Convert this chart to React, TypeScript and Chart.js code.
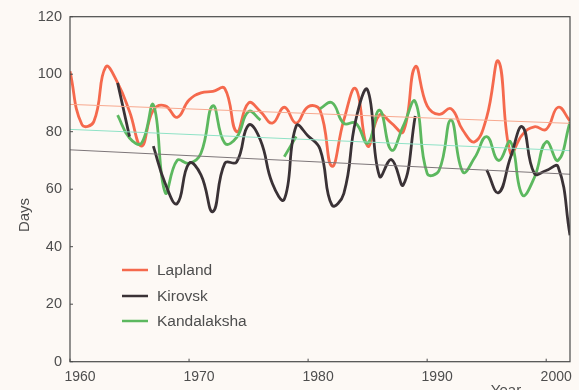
import React, { useEffect, useRef } from 'react';
import { Chart, registerables } from 'chart.js';

Chart.register(...registerables);

const years = [
  1960, 1961, 1962, 1963, 1964, 1965, 1966, 1967, 1968, 1969,
  1970, 1971, 1972, 1973, 1974, 1975, 1976, 1977, 1978, 1979,
  1980, 1981, 1982, 1983, 1984, 1985, 1986, 1987, 1988, 1989,
  1990, 1991, 1992, 1993, 1994, 1995, 1996, 1997, 1998, 1999,
  2000, 2001, 2002,
];

const lapland = [
  101, 82.5, 83.5, 102.5, 97, 87, 75, 87.5, 89, 85,
  91, 93.5, 94, 95, 80, 90, 87, 83, 88.5, 83,
  88.7, 87.5, 68, 84, 95, 75, 85.8, 83, 80, 102.6,
  89, 86, 88, 80.5, 76.5, 85, 104.5, 72.5, 79, 81.7,
  80.8, 88.5, 83.7,
];

const kirovsk = [
  null, null, null, null, 97, 78.3, null, 75, 62, 55,
  69, 65, 52.2, 69, 69.5, 82.3, 77, 62, 56.5, 82,
  78.5, 74, 54.5, 58.5, 84, 94.5, 64.5, 70.3, 61.5, 85.5,
  null, null, null, null, null, 66.7, 58.8, 71, 81.7, 65.5,
  66.5, 67.8, 44,
];

const kandalaksha = [
  null, null, null, null, 85.8, 77.8, 76, 89.3, 58.8, 70,
  69, 72.5, 89, 76, 78, 87, 84, null, 71.3, 78.3,
  null, 88, 90.1, 82.9, 83, 76, 87.5, 73.6, 82, 90.5,
  65.5, 66.5, 84, 66, 71, 78.3, 70, 76.5, 58, 64,
  76.5, 70, 83.3,
];

const trendYears = [1960, 2002];
const laplandTrend = [89.5, 82.9];
const kirovskTrend = [73.7, 65.2];
const kandalakshaTrend = [80.8, 73.4];

const xTicks = [1960, 1970, 1980, 1990, 2000];
const yTicks = [0, 20, 40, 60, 80, 100, 120];

const seriesNames = ['Lapland', 'Kirovsk', 'Kandalaksha'];
const seriesColors = ['#f5694d', '#3a3236', '#5cb85f'];
const trendColors = ['#f7a88e', '#8fe2c6', '#7d7679'];

const FONT = "'Liberation Sans', Arial, Helvetica, sans-serif";
const TEXT = '#4e4e4e';
const BG = '#fdf9f5';

const toPoints = (xs: number[], ys: (number | null)[]) =>
  xs.map((x, i) => ({ x, y: ys[i] }));

const decor = {
  id: 'decor',
  beforeDraw(chart: any) {
    const { ctx, width, height } = chart;
    ctx.save();
    ctx.fillStyle = BG;
    ctx.fillRect(0, 0, width, height);
    ctx.restore();
  },
  afterDraw(chart: any) {
    const { ctx, chartArea: a, scales } = chart;
    ctx.save();
    ctx.strokeStyle = '#4a4a4a';
    ctx.lineWidth = 1.2;
    ctx.strokeRect(a.left, a.top, a.right - a.left, a.bottom - a.top);
    ctx.lineWidth = 1;
    yTicks.forEach((v) => {
      const y = scales.y.getPixelForValue(v);
      ctx.beginPath();
      ctx.moveTo(a.left, y);
      ctx.lineTo(a.left + 3, y);
      ctx.stroke();
    });
    xTicks.forEach((v) => {
      const x = scales.x.getPixelForValue(v);
      ctx.beginPath();
      ctx.moveTo(x, a.bottom);
      ctx.lineTo(x, a.bottom - 3);
      ctx.stroke();
    });
    ctx.fillStyle = TEXT;
    ctx.font = `15px ${FONT}`;
    ctx.textAlign = 'center';
    ctx.textBaseline = 'middle';
    ctx.save();
    ctx.translate(25, 215);
    ctx.rotate(-Math.PI / 2);
    ctx.fillText('Days', 0, 0);
    ctx.restore();
    ctx.textBaseline = 'alphabetic';
    ctx.fillText('Year', 506, 395);
    const rows = [270, 296, 321];
    ctx.font = `15.5px ${FONT}`;
    ctx.textAlign = 'left';
    ctx.textBaseline = 'middle';
    seriesNames.forEach((name, i) => {
      ctx.strokeStyle = seriesColors[i];
      ctx.lineWidth = 2.5;
      ctx.beginPath();
      ctx.moveTo(122, rows[i]);
      ctx.lineTo(148, rows[i]);
      ctx.stroke();
      ctx.fillStyle = TEXT;
      ctx.fillText(name, 157, rows[i] + 1);
    });
    ctx.restore();
  },
};

export default function App() {
  const ref = useRef<HTMLCanvasElement | null>(null);

  useEffect(() => {
    document.body.style.margin = '0';
    document.body.style.background = BG;
    const canvas = ref.current;
    if (!canvas) return;

    const trend = (ys: number[], color: string) => ({
      data: toPoints(trendYears, ys),
      borderColor: color,
      borderWidth: 1,
      pointRadius: 0,
      tension: 0,
    });
    const series = (ys: (number | null)[], i: number) => ({
      label: seriesNames[i],
      data: toPoints(years, ys),
      borderColor: seriesColors[i],
      borderWidth: 2.8,
      pointRadius: 0,
      tension: 0.45,
      spanGaps: false,
    });

    const chart = new Chart(canvas, {
      type: 'line',
      data: {
        datasets: [
          trend(laplandTrend, trendColors[0]),
          trend(kandalakshaTrend, trendColors[1]),
          trend(kirovskTrend, trendColors[2]),
          series(kirovsk, 1),
          series(kandalaksha, 2),
          series(lapland, 0),
        ] as any,
      },
      options: {
        animation: false,
        responsive: false,
        maintainAspectRatio: false,
        devicePixelRatio: 1,
        layout: { padding: { top: 16.7, right: 9, left: 0, bottom: 0 } },
        plugins: { legend: { display: false }, tooltip: { enabled: false } },
        scales: {
          x: {
            type: 'linear',
            min: 1960,
            max: 2002,
            afterBuildTicks: (s: any) => {
              s.ticks = xTicks.map((v) => ({ value: v }));
            },
            afterFit: (s: any) => {
              s.height = 28.3;
            },
            grid: { display: false, drawTicks: false },
            border: { display: false },
            ticks: {
              color: TEXT,
              font: { family: FONT, size: 14 },
              padding: 7,
              labelOffset: 10,
              maxRotation: 0,
              callback: (v: any) => String(v),
            },
          },
          y: {
            type: 'linear',
            min: 0,
            max: 120,
            afterBuildTicks: (s: any) => {
              s.ticks = yTicks.map((v) => ({ value: v }));
            },
            afterFit: (s: any) => {
              s.width = 70;
            },
            grid: { display: false, drawTicks: false },
            border: { display: false },
            ticks: {
              color: TEXT,
              font: { family: FONT, size: 14.5 },
              padding: 8,
              callback: (v: any) => String(v),
            },
          },
        },
      } as any,
      plugins: [decor],
    });

    return () => chart.destroy();
  }, []);

  return (
    <div style={{ position: 'absolute', left: 0, top: 0, width: 579, height: 390 }}>
      <canvas ref={ref} width={579} height={390} style={{ width: 579, height: 390, display: 'block' }} />
    </div>
  );
}
